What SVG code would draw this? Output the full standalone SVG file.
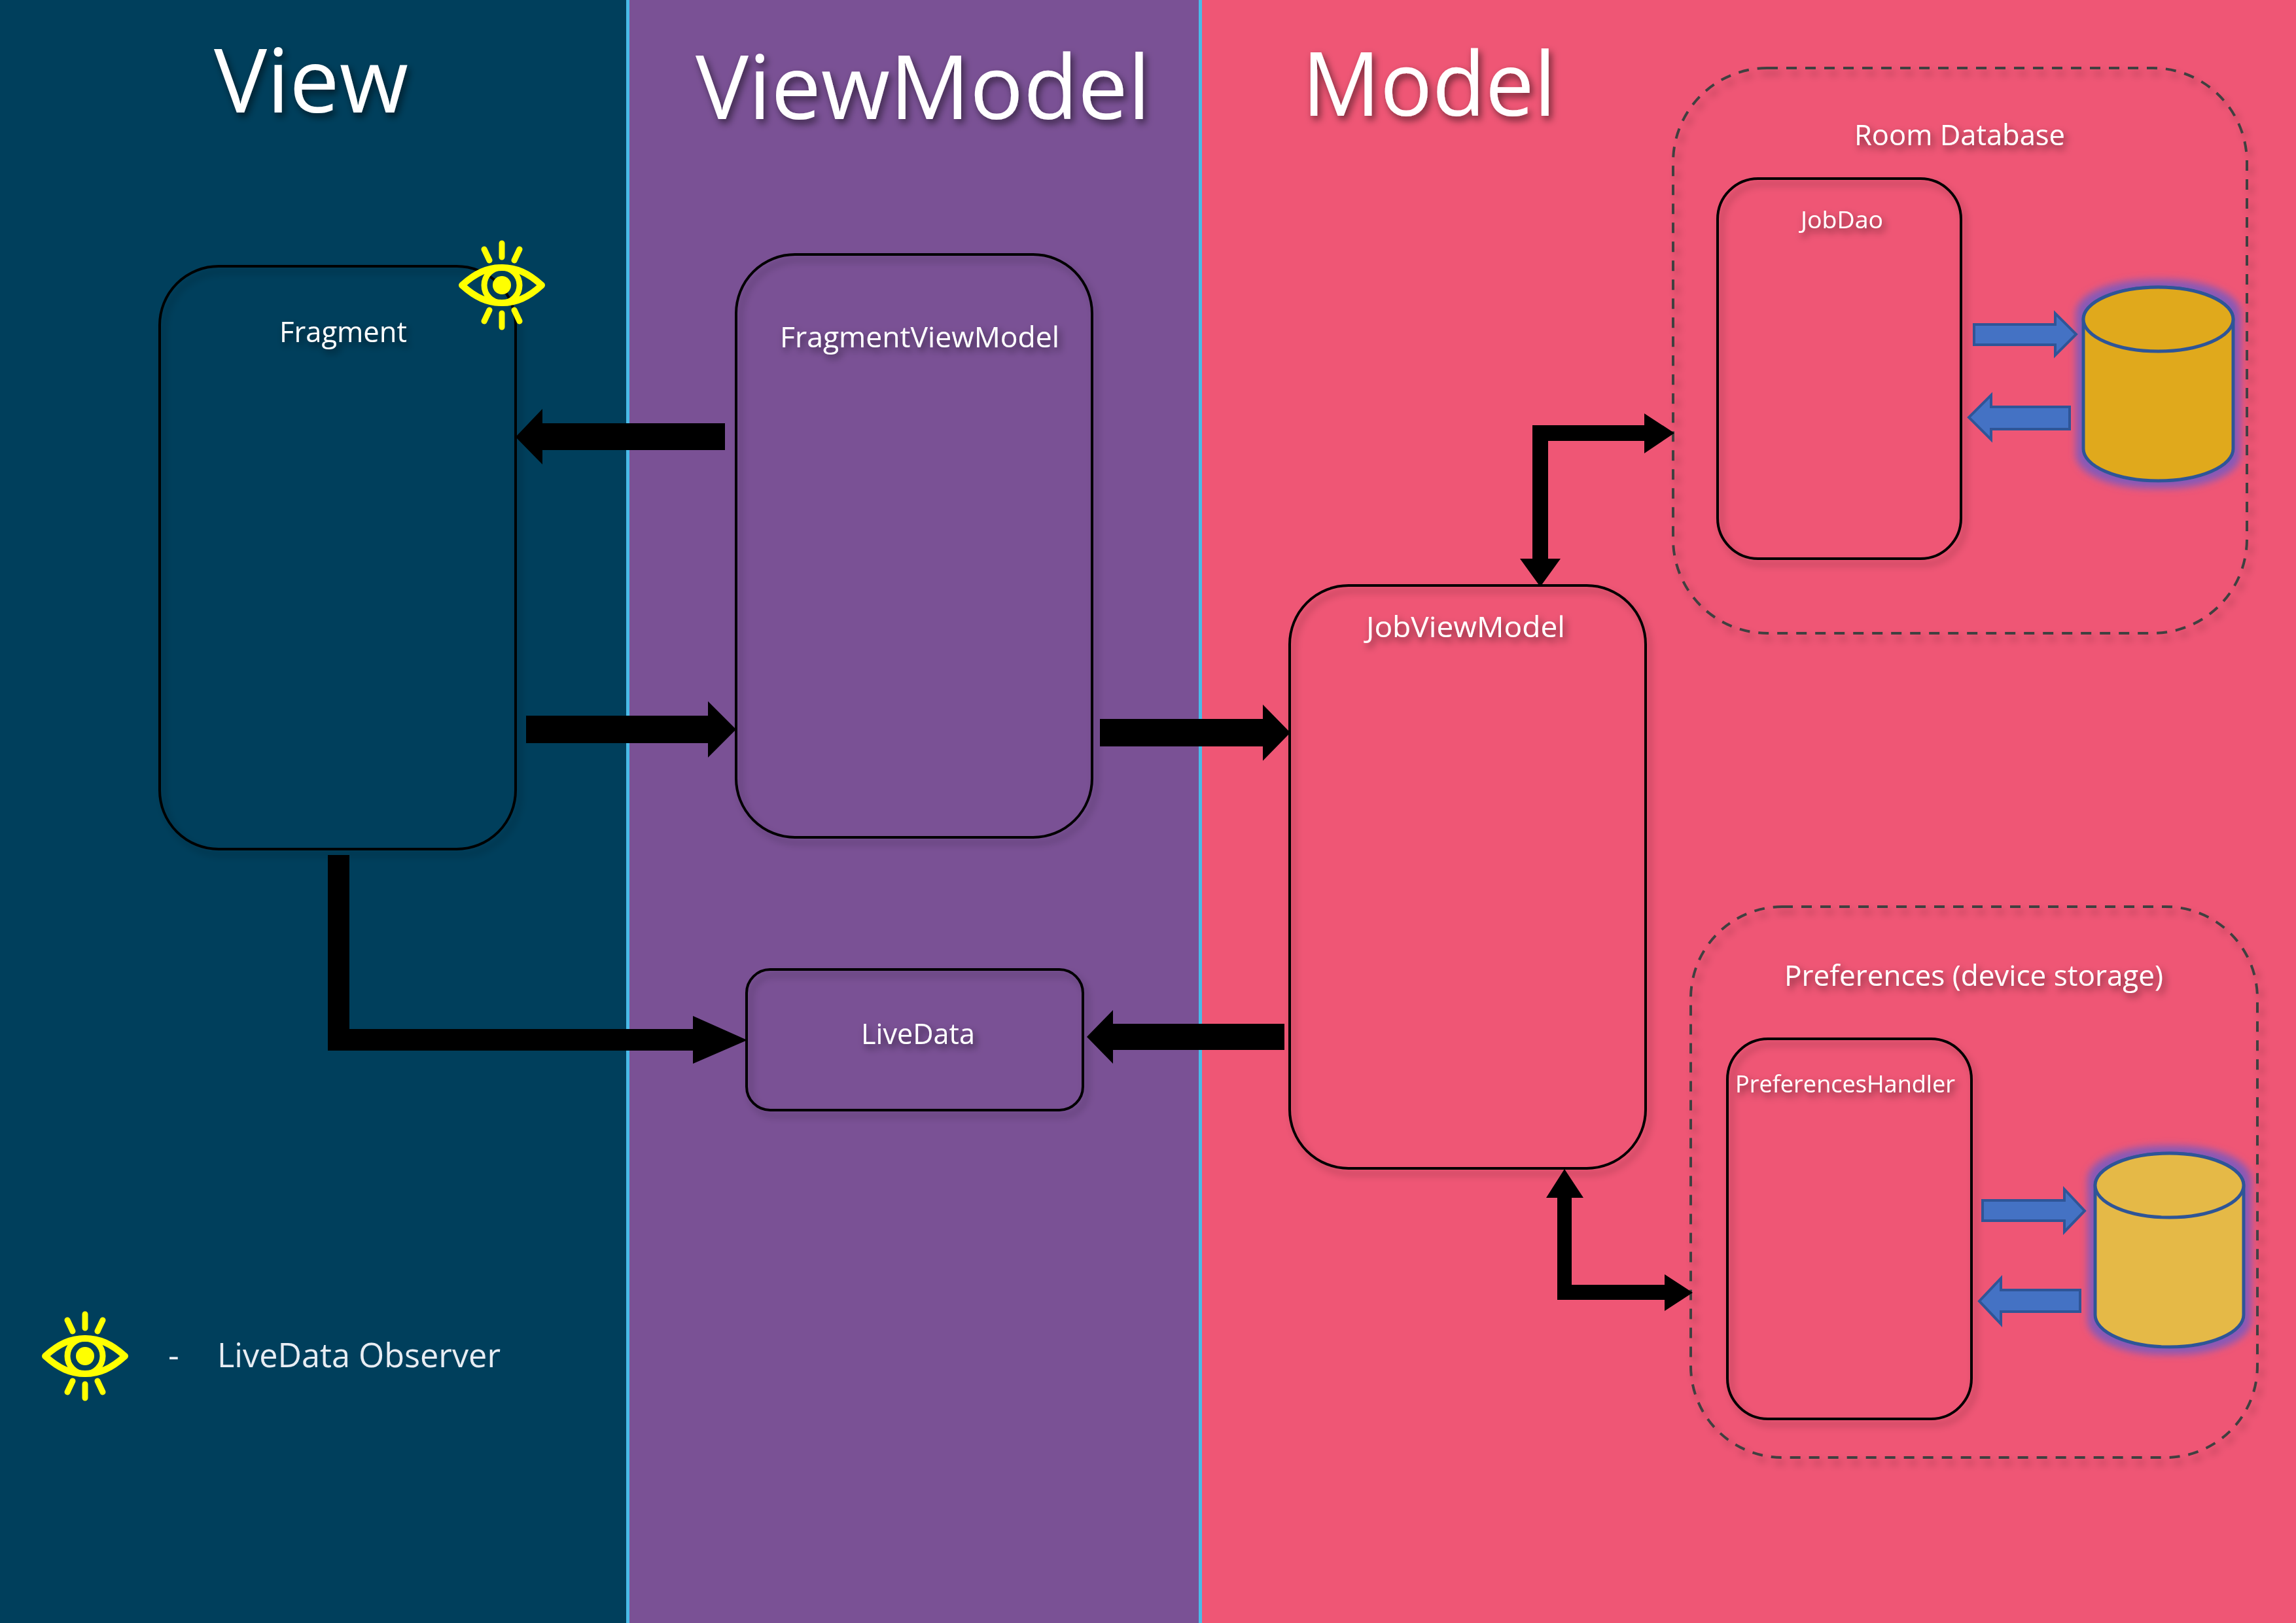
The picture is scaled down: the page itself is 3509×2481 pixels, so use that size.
<svg xmlns="http://www.w3.org/2000/svg" xmlns:xlink="http://www.w3.org/1999/xlink" width="3509" height="2481" viewBox="0 0 3509 2481">
<defs>
<filter id="boxShadow" x="-10%" y="-10%" width="120%" height="120%"><feDropShadow dx="6" dy="8" stdDeviation="6" flood-color="#000" flood-opacity="0.3"/></filter>
<filter id="textShadow" x="-10%" y="-30%" width="120%" height="160%"><feDropShadow dx="4" dy="6" stdDeviation="6" flood-color="#000" flood-opacity="0.55"/></filter>
<filter id="glow" x="-20%" y="-20%" width="140%" height="140%">
<feMorphology in="SourceAlpha" operator="dilate" radius="9" result="d"/>
<feGaussianBlur in="d" stdDeviation="6" result="b"/>
<feFlood flood-color="#8159bb" flood-opacity="0.95"/>
<feComposite in2="b" operator="in" result="c"/>
<feMerge><feMergeNode in="c"/><feMergeNode in="SourceGraphic"/></feMerge>
</filter>
<g id="eye" fill="none" stroke="#ffff00" stroke-width="9" stroke-linecap="round">
<path d="M-61 0C-40-19-22-27 0-27C22-27 40-19 61 0C40 19 22 27 0 27C-22 27-40 19-61 0Z" stroke-width="10" stroke-linejoin="round"/>
<ellipse cx="0" cy="0" rx="27" ry="27"/>
<ellipse cx="0" cy="0" rx="14" ry="14" fill="#ffff00" stroke="none"/>
<path d="M0-64V-43M-27-55L-19-38M27-55L19-38M0 43V64M-19 38L-27 55M19 38L27 55"/>
</g>
</defs>
<style>
.panel-line{fill:#49bbe8}
.box{fill:none;stroke:#000;stroke-width:4;filter:url(#boxShadow)}
.dash{fill:none;stroke:#404040;stroke-width:4;stroke-dasharray:16 13;filter:url(#boxShadow)}
text{font-family:"Open Sans","Noto Sans",sans-serif;fill:#fff}
.title{font-size:135px;filter:url(#textShadow)}
.label{font-size:44px;filter:url(#textShadow)}
.small{font-size:37px;filter:url(#textShadow)}
.legend{font-size:52px;fill:#e8edf3}
.thick{fill:#000}
.blue{fill:#4472c4;stroke:#2f5597;stroke-width:4}
.cyl{stroke:#2f5597;stroke-width:5}
</style>
<g id="panels">
<rect x="0" y="0" width="959" height="2481" fill="#003f5c"/>
<rect x="959" y="0" width="875" height="2481" fill="#7a5195"/>
<rect x="1834" y="0" width="1675" height="2481" fill="#ef5675"/>
<rect class="panel-line" x="957" y="0" width="5" height="2481"/>
<rect class="panel-line" x="1832" y="0" width="5" height="2481"/>
</g>
<g id="titles">
<text class="title" x="327" y="172" textLength="297" lengthAdjust="spacingAndGlyphs">View</text>
<text class="title" x="1063" y="182" textLength="695" lengthAdjust="spacingAndGlyphs">ViewModel</text>
<text class="title" x="1990" y="177" textLength="388" lengthAdjust="spacingAndGlyphs">Model</text>
</g>
<g id="node-fragment">
<rect class="box" x="244" y="407" width="544" height="891" rx="90" ry="90"/>
<text class="label" x="427" y="523" textLength="195" lengthAdjust="spacingAndGlyphs">Fragment</text>
</g>
<g id="node-fragment-viewmodel">
<rect class="box" x="1125" y="389" width="544" height="891" rx="90" ry="90"/>
<text class="label" x="1192" y="531" textLength="427" lengthAdjust="spacingAndGlyphs">FragmentViewModel</text>
</g>
<g id="node-livedata">
<rect class="box" x="1141" y="1482" width="514" height="215" rx="36" ry="36"/>
<text class="label" x="1316" y="1596" textLength="174" lengthAdjust="spacingAndGlyphs">LiveData</text>
</g>
<g id="node-job-viewmodel">
<rect class="box" x="1971" y="895" width="544" height="891" rx="90" ry="90"/>
<text class="label" x="2088" y="974" textLength="304" lengthAdjust="spacingAndGlyphs">JobViewModel</text>
</g>
<g id="node-room-database">
<rect class="dash" x="2557" y="104" width="877" height="864" rx="144" ry="144"/>
<text class="label" x="2834" y="222" textLength="322" lengthAdjust="spacingAndGlyphs">Room Database</text>
</g>
<g id="node-jobdao">
<rect class="box" x="2625" y="273" width="372" height="581" rx="62" ry="62"/>
<text class="small" x="2752" y="349" textLength="126" lengthAdjust="spacingAndGlyphs">JobDao</text>
</g>
<g id="node-room-cylinder" filter="url(#glow)">
<path class="cyl" fill="#e0a91c" d="M3184 488A114.500 49 0 0 1 3413 488V686A114.500 49 0 0 1 3184 686Z"/>
<ellipse class="cyl" fill="#e0a91c" cx="3298.500" cy="488" rx="114.500" ry="49"/>
</g>
<g id="node-preferences">
<rect class="dash" x="2584" y="1386" width="866" height="842" rx="140" ry="140"/>
<text class="label" x="2727" y="1507" textLength="579" lengthAdjust="spacingAndGlyphs">Preferences (device storage)</text>
</g>
<g id="node-preferences-handler">
<rect class="box" x="2640" y="1588" width="373" height="581" rx="62" ry="62"/>
<text class="small" x="2652" y="1670" textLength="336" lengthAdjust="spacingAndGlyphs">PreferencesHandler</text>
</g>
<g id="node-prefs-cylinder" filter="url(#glow)">
<path class="cyl" fill="#e5b946" d="M3202 1812A113.500 49 0 0 1 3429 1812V2010A113.500 49 0 0 1 3202 2010Z"/>
<ellipse class="cyl" fill="#e5b946" cx="3315.500" cy="1812" rx="113.500" ry="49"/>
</g>
<g id="connectors">
<polygon class="thick" points="1108,647 829,647 829,625 788,668 829,710 829,688 1108,688"/>
<polygon class="thick" points="804,1094 1082,1094 1082,1072 1125,1115 1082,1158 1082,1136 804,1136"/>
<polygon class="thick" points="1681,1099 1930,1099 1930,1077 1972,1120 1930,1163 1930,1141 1681,1141"/>
<polygon class="thick" points="501,1307 534,1307 534,1573 1059,1573 1059,1553 1142,1590 1059,1626 1059,1606 501,1606"/>
<polygon class="thick" points="1963,1565 1701,1565 1701,1544 1661,1585 1701,1626 1701,1605 1963,1605"/>
<polygon class="thick" points="2342,650 2513,650 2513,632 2559,662 2513,693 2513,674 2366,674 2366,854 2385,854 2354,897 2323,854 2342,854"/>
<polygon class="thick" points="2380,1987 2544,1987 2544,2004 2587,1976 2544,1948 2544,1964 2402,1964 2402,1831 2420,1831 2391,1787 2363,1831 2380,1831"/>
<polygon class="blue" points="3017,496 3141,496 3141,479 3173,511 3141,543 3141,527 3017,527"/>
<polygon class="blue" points="3163,622 3043,622 3043,604 3009,638 3043,672 3043,656 3163,656"/>
<polygon class="blue" points="3030,1835 3155,1835 3155,1818 3186,1851 3155,1883 3155,1866 3030,1866"/>
<polygon class="blue" points="3179,1972 3058,1972 3058,1954 3025,1989 3058,2024 3058,2005 3179,2005"/>
</g>
<g id="node-observer-eye"><use href="#eye" x="767" y="436"/></g>
<g id="legend">
<use href="#eye" x="130" y="2073"/>
<text class="legend" x="257" y="2090">-</text>
<text class="legend" x="332" y="2090" textLength="433" lengthAdjust="spacingAndGlyphs">LiveData Observer</text>
</g>
</svg>
